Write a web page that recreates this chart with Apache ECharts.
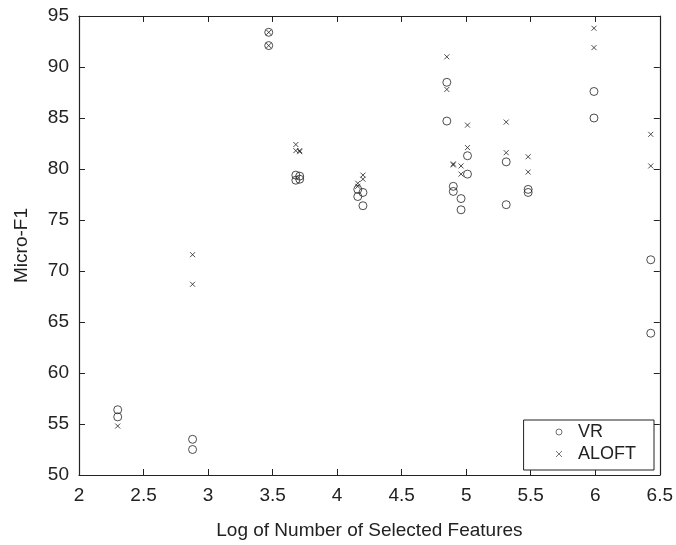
<!DOCTYPE html>
<html>
<head>
<meta charset="utf-8">
<script src="https://cdn.jsdelivr.net/npm/echarts@6/dist/echarts.min.js"></script>
<style>
  html, body { margin: 0; padding: 0; background: #fff; }
  #chart { width: 676px; height: 545px; }
</style>
</head>
<body>
<div id="chart"></div>
<script>
var chartDom = document.getElementById('chart');
var chart = echarts.init(chartDom, null, { renderer: 'canvas' });

// log of number of selected features, one entry per point
var vrX = [2.30, 2.30, 2.88, 2.88, 3.47, 3.47, 3.68, 3.68, 3.71, 3.71,
           4.16, 4.16, 4.20, 4.20, 4.85, 4.85, 4.90, 4.90, 4.96, 4.96,
           5.01, 5.01, 5.31, 5.31, 5.48, 5.48, 5.99, 5.99, 6.43, 6.43];
var vrY = [56.4, 55.7, 53.5, 52.5, 93.4, 92.1, 79.4, 78.9, 79.3, 79.0,
           78.0, 77.3, 77.7, 76.4, 88.5, 84.7, 78.3, 77.8, 77.1, 76.0,
           81.3, 79.5, 80.7, 76.5, 78.0, 77.7, 87.6, 85.0, 71.1, 63.9];

var aloftX = [2.30, 2.88, 2.88, 3.47, 3.47, 3.68, 3.68, 3.71, 3.71,
              4.16, 4.16, 4.20, 4.20, 4.85, 4.85, 4.90, 4.90, 4.96, 4.96,
              5.01, 5.01, 5.31, 5.31, 5.48, 5.48, 5.99, 5.99, 6.43, 6.43];
var aloftY = [54.8, 71.6, 68.7, 93.4, 92.1, 82.4, 81.8, 81.8, 81.7,
              78.6, 78.3, 79.4, 79.0, 91.0, 87.8, 80.5, 80.4, 80.3, 79.5,
              84.3, 82.1, 84.6, 81.6, 81.2, 79.7, 93.8, 91.9, 83.4, 80.3];

var font = "'Liberation Sans', Arial, Helvetica, sans-serif";
var axisColor = '#222';
var crossPath = 'path://M0,0L10,10M10,0L0,10';

function pairs(xs, ys) {
    return xs.map(function (x, i) { return [x, ys[i]]; });
}

var boxAxis = {
    axisLine: { show: true, onZero: false, lineStyle: { color: axisColor, width: 1.2 } },
    axisTick: { show: true, inside: true, length: 6, lineStyle: { color: axisColor } },
    splitLine: { show: false }
};

var option = {
    backgroundColor: '#fff',
    animation: false,
    grid: { left: 79, right: 16, top: 16, bottom: 69 },
    xAxis: [
        Object.assign({
            type: 'value', min: 2, max: 6.5, interval: 0.5,
            name: 'Log of Number of Selected Features',
            nameLocation: 'middle', nameGap: 46,
            nameTextStyle: { fontFamily: font, fontSize: 19, color: '#222' },
            axisLabel: { fontFamily: font, fontSize: 19, color: '#222', margin: 11 }
        }, boxAxis),
        Object.assign({
            type: 'value', min: 2, max: 6.5, interval: 0.5, position: 'top',
            axisLabel: { show: false }
        }, boxAxis)
    ],
    yAxis: [
        Object.assign({
            type: 'value', min: 50, max: 95, interval: 5,
            name: 'Micro-F1',
            nameLocation: 'middle', nameGap: 48,
            nameTextStyle: { fontFamily: font, fontSize: 19, color: '#222' },
            axisLabel: { fontFamily: font, fontSize: 19, color: '#222', margin: 10 }
        }, boxAxis),
        Object.assign({
            type: 'value', min: 50, max: 95, interval: 5, position: 'right',
            axisLabel: { show: false }
        }, boxAxis)
    ],
    legend: {
        orient: 'vertical',
        right: 22,
        bottom: 75,
        padding: [3, 18, 7, 32],
        itemGap: 4,
        itemWidth: 6,
        itemHeight: 6,
        borderColor: '#222',
        borderWidth: 1,
        backgroundColor: '#fff',
        itemStyle: { color: 'transparent', borderColor: '#222', borderWidth: 0.8 },
        textStyle: { fontFamily: font, fontSize: 18, color: '#222', padding: [0, 0, 0, 11] },
        data: [
            { name: 'VR', icon: 'circle' },
            { name: 'ALOFT', icon: crossPath }
        ]
    },
    series: [
        {
            name: 'VR',
            type: 'scatter',
            symbol: 'circle',
            symbolSize: 8,
            itemStyle: { color: 'transparent', borderColor: '#222', borderWidth: 1 },
            data: pairs(vrX, vrY)
        },
        {
            name: 'ALOFT',
            type: 'scatter',
            symbol: crossPath,
            symbolSize: 5,
            itemStyle: { color: 'transparent', borderColor: '#222', borderWidth: 1 },
            data: pairs(aloftX, aloftY)
        }
    ]
};

chart.setOption(option);
window.addEventListener('resize', function () {
    chart.resize();
});
</script>
</body>
</html>
